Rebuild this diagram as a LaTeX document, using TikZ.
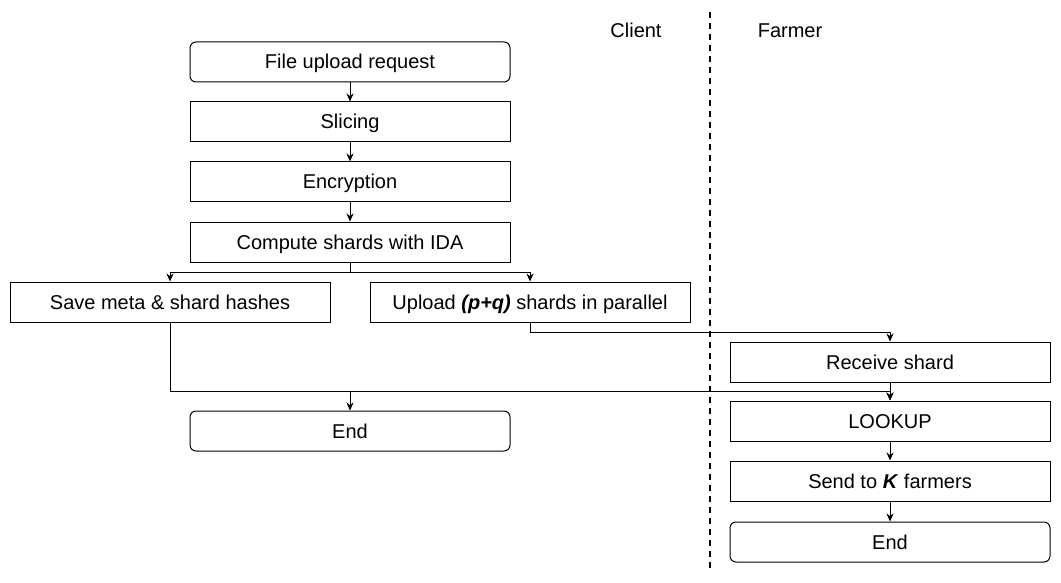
\documentclass[tikz,border=0pt]{standalone}
\usepackage{fontspec}
\setmainfont{Liberation Sans}
\usetikzlibrary{arrows.meta}
\begin{document}
\begin{tikzpicture}[x=1pt,y=-1pt,
  box/.style={draw, line width=1pt, fill=white, minimum width=320pt, minimum height=40pt, inner sep=0pt, text height=18pt, text depth=4pt, font=\fontsize{20}{24}\selectfont},
  rbox/.style={box, rounded corners=6pt},
  lbl/.style={font=\fontsize{20}{24}\selectfont, inner sep=0pt, text height=18pt, text depth=4pt},
  arr/.style={-{Stealth[length=8pt,width=7pt]}, line width=1pt},
  lane/.style={line width=1.8pt, dash pattern=on 6pt off 5pt}]
\useasboundingbox (0,0) rectangle (1061,583);
\fill[white] (0,0) rectangle (1061,583);
% lane divider
\coordinate (ltop) at (710,12);
\coordinate (lbot) at (710,572);
\draw[lane] (ltop) -- (lbot);
\node[lbl] (client) at (636,31) {Client};
\node[lbl] (farmer) at (790,31) {Farmer};
% client
\node[rbox] (req) at (350,62) {File upload request};
\node[box] (slice) at (350,122) {Slicing};
\node[box] (enc) at (350,182) {Encryption};
\node[box] (ida) at (350,242) {Compute shards with IDA};
\node[box] (save) at (170,302) {Save meta \& shard hashes};
\node[box] (up) at (530,302) {Upload \textbf{\textit{(p+q)}} shards in parallel};
\node[rbox] (endc) at (350,431) {End};
% farmer
\node[box] (recv) at (890,362) {Receive shard};
\node[box] (look) at (890,421) {LOOKUP};
\node[box] (send) at (890,481) {Send to \textbf{\textit{K}} farmers};
\node[rbox] (endf) at (890,542) {End};
% connectors
\draw[arr] (req) -- (slice);
\draw[arr] (slice) -- (enc);
\draw[arr] (enc) -- (ida);
\draw[arr] (ida.south) -- ++(0,10) -| (save.north);
\draw[arr] (ida.south) -- ++(0,10) -| (up.north);
\draw[arr] (up.south) -- ++(0,10) -| (recv.north);
\coordinate (merge) at (170,391);
\draw[arr] (save.south) -- (merge) -| (look.north);
\draw[arr] (merge -| endc.north) -- (endc.north);
\draw[arr] (recv) -- (look);
\draw[arr] (look) -- (send);
\draw[arr] (send) -- (endf);
\end{tikzpicture}
\end{document}
